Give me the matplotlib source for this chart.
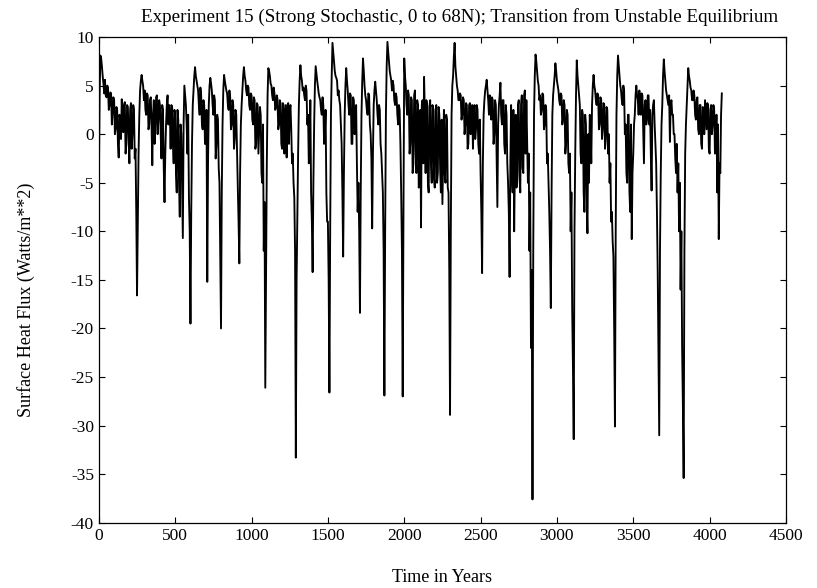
import numpy as np
import matplotlib
matplotlib.use('Agg')
import matplotlib.pyplot as plt

plt.rcParams.update({
    'font.family': 'serif',
    'font.serif': ['Liberation Serif', 'DejaVu Serif'],
    'axes.unicode_minus': False,
    'xtick.direction': 'in',
    'ytick.direction': 'in',
    'xtick.top': True,
    'ytick.right': True,
})

# surface heat flux (W/m^2), one value every 5 years
flux = [
    -5.5, 4.0, 8.1, 7.8, 7.0, 6.0, 5.2, 4.2, 5.6, 4.0, 3.8, 5.0, 4.8, 2.5, 3.0, 4.3, 4.2, 1.0, 2.2, 3.8,  # 0
    3.5, 0.0, 0.5, 2.8, 2.5, -1.0, -2.4, 2.0, 1.5, -0.5, 3.6, 1.0, 0.2, 3.0, 3.3, -2.0, -1.0, 3.0, 2.8, -0.5,  # 100
    -3.0, 2.5, 3.2, -1.5, 0.0, 3.0, 2.6, -2.5, -1.5, -8.0, -16.6, -9.0, -2.0, 2.0, 4.5, 5.5, 6.1, 5.5, 5.0, 3.5,  # 200
    4.5, 2.5, 2.0, 4.2, 4.0, 0.5, 1.0, 3.5, 3.8, 1.0, -3.2, 2.0, 3.5, -1.0, 0.5, 3.8, 4.0, 0.0, 1.5, 3.5,  # 300
    3.0, 0.0, -2.5, 3.0, 2.5, -3.5, -7.0, -2.0, 1.0, 3.0, 4.0, 1.0, 3.0, 2.0, -1.5, 3.0, 2.8, -1.0, -3.0, 2.5,  # 400
    2.0, -4.0, -6.0, 2.5, 1.5, -5.0, -8.5, 1.0, 0.0, -5.0, -10.7, 1.0, 5.0, 4.0, 3.0, 1.0, -2.0, 2.0, -6.5, -10.0,  # 500
    -19.5, -8.0, -1.0, 3.0, 4.5, 6.0, 6.9, 6.0, 5.5, 5.0, 4.5, 3.0, 2.0, 4.8, 4.0, 1.0, 0.5, 3.5, 3.0, -1.0,  # 600
    -1.0, 2.5, -15.2, -3.0, 3.0, 5.0, 5.8, 5.2, 4.5, 3.0, 2.0, 4.0, 3.5, -2.5, -1.0, 2.0, 1.5, -3.5, -5.0, -12.0,  # 700
    -20.0, -6.0, 1.0, 4.5, 6.1, 5.5, 5.0, 4.5, 4.2, 3.0, 2.5, 4.5, 3.8, 0.5, 1.0, 3.5, 3.0, -1.5, -0.5, 2.5,  # 800
    2.0, -2.0, -5.5, -9.0, -13.3, -4.0, 1.0, 3.0, 4.5, 6.0, 6.9, 6.0, 5.5, 4.5, 4.0, 5.0, 4.8, 3.0, 2.5, 4.2,  # 900
    4.0, 1.5, 1.0, 3.8, 3.5, -1.5, -1.0, 3.2, 3.0, -2.0, 0.5, 2.8, 2.0, -4.0, -5.0, 1.0, -12.0, -7.0, -26.1, -15.0,  # 1000
    -3.0, 4.0, 6.8, 6.5, 6.0, 5.2, 5.0, 4.0, 3.5, 4.8, 4.2, 2.5, 2.8, 4.0, 3.6, 0.5, 1.0, 3.5, 3.2, -1.0,  # 1100
    -1.5, 3.2, 3.0, -2.0, 2.0, 3.0, -2.4, 1.5, 3.2, -1.0, 2.5, 3.0, 0.5, -3.0, -2.0, -5.0, -6.5, -12.0, -33.3, -15.0,  # 1200
    -8.0, -2.0, 3.0, 5.5, 7.1, 6.0, 5.5, 4.5, 4.8, 4.0, 3.5, 5.0, 4.5, 1.0, 2.0, -3.0, -2.0, 3.5, -6.0, -9.0,  # 1300
    -14.2, -5.0, 1.0, 5.0, 7.0, 6.2, 5.5, 4.8, 4.2, 3.8, 3.5, 2.5, 2.0, 3.8, 3.0, -1.0, 0.0, 2.5, -6.0, -9.0,  # 1400
    -9.0, -15.0, -26.6, -10.0, 2.0, 6.0, 9.4, 8.5, 7.5, 6.5, 6.0, 5.8, 5.5, 4.0, 4.5, 3.5, 3.0, 1.0, -1.0, -6.0,  # 1500
    -12.6, -4.0, 2.0, 5.0, 6.8, 5.5, 4.5, 3.0, 2.0, 4.2, 4.0, -1.0, -1.0, 3.8, 3.5, 0.0, 1.0, 3.0, -3.0, -8.0,  # 1600
    -5.0, -10.0, -18.4, -6.0, 2.0, 5.5, 7.8, 6.5, 5.0, 4.0, 3.5, 2.5, 2.0, 4.2, 4.0, 1.0, 0.0, -2.5, -9.7, -2.0,  # 1700
    3.0, 4.5, 5.4, 4.5, 3.5, 2.0, 1.0, 3.0, 2.5, -1.0, -2.0, -4.0, -6.0, -12.0, -26.9, -10.0, 2.0, 7.0, 9.5, 8.5,  # 1800
    7.5, 6.5, 6.0, 5.5, 4.5, 5.5, 5.0, 3.5, 3.0, 4.2, 3.8, 2.0, 1.0, 3.0, 2.5, -1.0, -6.0, -12.0, -27.0, -8.0,  # 1900
    7.8, 6.0, 5.0, 3.0, 2.0, 4.5, 4.0, -2.0, -1.0, 3.8, 3.5, -4.0, -3.0, 4.0, 4.5, -2.0, -4.0, 3.5, 3.0, -5.5,  # 2000
    -5.0, 2.5, -9.6, 3.0, 3.5, -3.0, 5.9, 2.0, -4.0, 3.5, 3.0, -5.0, -6.0, 2.8, 3.5, -3.0, -5.0, 3.0, 2.5, -4.5,  # 2100
    -5.5, 2.5, 3.0, -5.0, -4.0, 2.8, 2.0, -3.5, -6.0, 1.5, -7.2, -2.0, 2.5, -4.0, -5.0, 2.0, 1.5, -5.5, -6.0, -14.0,  # 2200
    -28.9, -10.0, 2.0, 5.0, 6.0, 8.0, 9.4, 7.0, 6.0, 5.0, 4.5, 3.5, 3.5, 4.2, 4.0, 1.5, 2.0, 3.8, 3.5, 0.0,  # 2300
    1.0, 3.2, 3.0, -1.5, -1.0, 3.0, 3.2, 0.0, 2.5, 3.0, -1.5, 2.0, 3.0, -0.5, 0.5, 3.0, 2.5, -1.0, -2.0, 1.5,  # 2400
    -4.0, -8.0, -14.3, -3.0, 2.0, 3.5, 4.5, 5.0, 5.6, 4.5, 3.5, 2.0, 4.0, 3.0, 1.5, 3.8, 3.5, -1.0, 0.0, 3.5,  # 2500
    3.0, -2.0, -7.5, 1.0, 3.0, 4.0, 5.3, 2.0, 1.0, 3.5, 3.5, -1.0, -2.0, 3.0, 2.0, -3.0, -5.0, -8.0, -14.7, -3.0,  # 2600
    3.0, -4.0, -6.0, 2.5, -10.0, -3.0, 2.0, -5.5, -5.0, 3.0, 3.5, -4.0, -6.0, 3.0, 4.0, -3.5, -4.0, 4.0, 4.5, -2.0,  # 2700
    3.5, -1.0, -5.0, -2.0, -12.0, -6.0, -22.0, -14.0, -37.6, -12.0, 2.0, 6.0, 8.2, 7.5, 6.5, 5.5, 5.0, 3.5, 4.0, 2.0,  # 2800
    2.5, 4.2, 4.0, 0.5, 1.0, 3.0, 2.5, -3.0, -2.0, -5.0, -8.0, -12.0, -17.9, -6.0, 2.0, 4.0, 5.0, 6.0, 7.3, 6.5,  # 2900
    5.5, 5.0, 4.5, 3.5, 3.0, 4.2, 4.0, 1.0, 1.5, 3.5, 3.0, -2.0, -1.0, 2.5, 2.0, -3.0, -4.0, -2.0, -10.0, -6.0,  # 3000
    -18.0, -24.0, -31.4, -10.0, -2.0, 4.0, 7.6, 6.0, 5.0, 4.0, 3.0, -2.0, -3.0, 2.5, 2.0, -6.0, -8.0, 2.0, 1.0, -7.0,  # 3100
    -10.2, 0.0, -5.0, 2.0, 1.0, -3.0, 3.0, 5.0, 6.1, 5.0, 4.5, 3.5, 3.0, 4.2, 4.0, 0.5, 1.0, 3.8, 3.5, -0.5,  # 3200
    0.5, 3.2, 3.0, -1.5, -0.5, 2.8, 2.5, -2.0, 0.0, -5.0, -3.0, -9.0, -8.0, -11.0, -12.6, -20.0, -30.1, -10.0, 2.0, 6.0,  # 3300
    8.1, 7.0, 6.0, 5.0, 4.5, 3.5, 3.0, 5.0, 4.5, 0.0, 1.0, -4.0, -5.0, 2.0, 2.0, -6.0, -8.0, 1.0, -10.8, -4.0,  # 3400
    -2.0, 1.0, 2.0, 4.0, 5.0, 4.0, 3.5, 2.0, 4.5, 3.0, 2.0, 4.2, 4.0, 0.5, -3.0, 3.0, 3.5, 1.0, 1.5, 4.0,  # 3500
    4.0, 1.0, 2.5, -2.0, -5.8, 2.0, 3.0, 3.5, 1.0, -1.0, -3.0, -8.0, -14.0, -22.0, -31.0, -12.0, -4.0, 1.0, 3.0, 6.0,  # 3600
    7.7, 6.5, 5.5, 4.5, 4.0, 3.5, 3.0, 4.0, -0.8, 3.0, 3.5, 2.0, 2.0, 0.0, 0.0, -2.5, -4.0, -1.0, -6.0, -3.0,  # 3700
    -10.0, -5.0, -16.0, -10.0, -22.0, -28.0, -35.4, -12.0, -2.0, 1.0, 3.0, 5.0, 6.8, 6.0, 5.5, 4.8, 4.5, 3.5, 3.5, 4.5,  # 3800
    4.0, 2.0, 1.5, 3.5, 3.8, 0.5, 0.0, 3.0, 3.0, -1.0, -1.5, 2.8, 2.5, 0.0, 3.5, 2.0, 0.5, 3.2, 3.0, -1.5,  # 3900
    -2.0, 2.5, 3.0, 0.0, 1.0, 3.0, 2.5, -2.0, -1.0, 2.0, -6.0, 1.0, -10.8, -3.0, -4.0, 2.0, 4.2,  # 4000
]
years = np.arange(len(flux)) * 5

title = "Experiment 15 (Strong Stochastic, 0 to 68N); Transition from Unstable Equilibrium"
xticks = np.arange(0, 4501, 500)
yticks = np.arange(-40, 11, 5)

fig = plt.figure(figsize=(8.17, 5.88), dpi=100)
ax = fig.add_axes([0.121, 0.111, 0.841, 0.826])
ax.plot(years, flux, color='black', linewidth=1.35)

ax.set_xlim(0, 4500)
ax.set_ylim(-40, 10)
ax.set_xticks(xticks)
ax.set_yticks(yticks)
ax.tick_params(labelsize=12.5, length=4, width=0.8)
for s in ax.spines.values():
    s.set_linewidth(0.9)

ax.set_title(title, fontsize=13.7, pad=11, x=0.525)
ax.set_xlabel("Time in Years", fontsize=13, labelpad=18)
ax.set_ylabel("Surface Heat Flux (Watts/m**2)", fontsize=13)
ax.yaxis.set_label_coords(-0.093, 0.46)

fig.savefig("out.png", dpi=100)
